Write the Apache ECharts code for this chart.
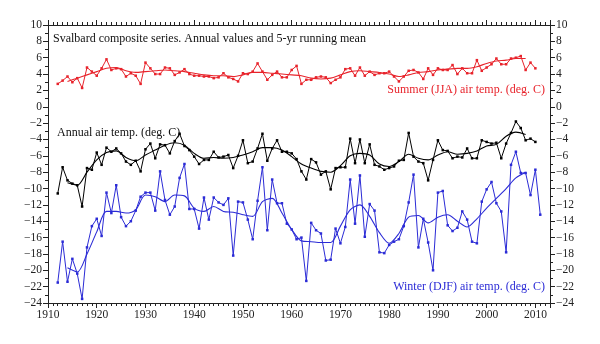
<!DOCTYPE html>
<html><head><meta charset="utf-8">
<script src="https://cdn.jsdelivr.net/npm/echarts@6/dist/echarts.min.js"></script>
<style>html,body{margin:0;padding:0;background:#fff}#c{width:600px;height:344px}</style>
</head><body><div id="c"></div>
<script>
// ---- data ----
const firstYear = 1912;
const summer = [2.8,3.2,3.7,3.0,3.5,2.3,4.8,4.3,3.8,4.7,5.8,4.5,4.7,4.6,3.7,4.1,3.8,2.8,5.4,4.7,4.0,4.0,4.8,4.7,3.9,4.2,4.6,4.0,3.8,3.8,3.7,3.7,3.5,3.6,4.1,3.6,3.4,3.1,4.1,4.0,4.3,5.3,4.3,3.3,3.9,4.3,3.6,3.6,4.5,5.0,2.8,3.3,3.3,3.6,3.7,3.6,2.9,3.3,3.6,4.6,4.7,3.8,4.8,3.8,4.3,3.9,4.1,4.1,4.3,3.7,3.1,3.7,4.4,4.5,4.2,3.4,4.7,3.9,4.7,4.5,4.5,5.1,4.0,4.7,4.1,4.1,5.7,4.4,4.8,5.2,5.9,5.2,5.2,5.9,6.0,6.2,4.5,5.4,4.7];
const annual = [-10.6,-7.4,-9.0,-9.4,-9.6,-12.2,-7.5,-7.7,-5.6,-7.1,-5.0,-5.5,-5.1,-5.7,-6.7,-7.1,-6.6,-7.9,-5.2,-4.5,-6.3,-4.6,-4.7,-5.7,-4.2,-3.3,-4.8,-5.3,-6.1,-7.0,-6.5,-6.5,-5.5,-6.2,-6.1,-5.9,-7.5,-6.0,-4.1,-6.9,-6.7,-5.1,-3.3,-6.6,-5.1,-4.1,-5.5,-5.5,-5.7,-6.4,-7.9,-8.9,-6.4,-6.8,-8.3,-7.9,-10.1,-7.5,-7.4,-7.4,-3.9,-6.9,-4.0,-6.9,-4.6,-7.1,-7.3,-7.7,-7.5,-7.3,-6.6,-6.5,-3.2,-6.1,-6.7,-6.9,-9.0,-6.5,-4.1,-5.3,-5.4,-6.3,-6.1,-6.2,-5.1,-6.3,-6.3,-4.1,-4.3,-4.5,-4.4,-6.3,-4.5,-3.2,-1.8,-2.6,-4.1,-3.9,-4.3];
const winter = [-21.5,-16.5,-21.4,-18.6,-20.4,-23.5,-17.2,-14.6,-13.7,-15.8,-10.5,-13.0,-9.6,-13.5,-14.6,-14.0,-12.7,-11.0,-10.5,-10.5,-12.7,-7.9,-11.4,-13.2,-12.2,-8.7,-7.0,-12.5,-12.5,-14.9,-11.1,-13.8,-11.1,-11.7,-12.0,-11.2,-18.2,-11.6,-11.7,-13.8,-16.2,-11.5,-7.4,-15.1,-8.9,-11.8,-11.8,-14.3,-15.0,-16.2,-16.0,-21.3,-14.2,-15.1,-15.5,-18.8,-18.7,-14.9,-16.7,-14.7,-8.9,-14.3,-8.4,-15.9,-11.9,-12.7,-17.8,-17.9,-16.9,-16.5,-16.2,-14.6,-11.7,-8.3,-17.2,-13.7,-16.6,-20.0,-10.5,-10.3,-14.5,-15.2,-14.8,-12.8,-13.8,-16.5,-16.7,-11.6,-10.1,-9.2,-11.8,-12.8,-17.8,-7.1,-5.5,-8.1,-8.1,-10.8,-7.7,-13.2];

// 5-yr running means at every second year
const meanYears = [1914,1916,1918,1920,1922,1924,1926,1928,1930,1932,1934,1936,1938,1940,1942,1944,1946,1948,1950,1952,1954,1956,1958,1960,1962,1964,1966,1968,1970,1972,1974,1976,1978,1980,1982,1984,1986,1988,1990,1992,1994,1996,1998,2000,2002,2004,2006,2008];
const summerMean = [3.1,3.5,3.9,4.3,4.7,4.8,4.4,4.2,4.3,4.4,4.5,4.4,4.3,4.1,3.9,3.8,3.8,3.7,3.9,4.2,4.2,4.1,4.0,3.9,3.8,3.5,3.4,3.5,3.9,4.3,4.4,4.3,4.2,4.0,3.7,3.9,4.2,4.3,4.5,4.6,4.7,4.7,4.9,5.3,5.6,5.7,5.9,5.9];
const annualMean = [-9.3,-9.6,-8.0,-6.5,-5.6,-5.4,-6.2,-6.6,-5.9,-5.3,-4.7,-4.4,-4.7,-5.7,-6.3,-6.2,-6.3,-6.2,-5.9,-5.5,-5.0,-5.0,-5.3,-6.1,-7.0,-7.5,-7.9,-8.0,-7.2,-6.0,-5.7,-5.9,-7.0,-7.3,-6.7,-5.8,-6.3,-6.5,-5.9,-5.5,-5.8,-5.7,-5.4,-4.8,-4.6,-3.6,-3.1,-3.4];
const winterMean = [-19.7,-20.2,-18.0,-15.3,-12.8,-12.8,-13.0,-12.6,-10.8,-11.0,-11.6,-10.8,-10.9,-12.4,-12.8,-12.2,-12.8,-12.9,-13.2,-13.4,-11.6,-11.2,-13.0,-15.0,-16.4,-16.5,-16.6,-16.6,-14.6,-12.6,-12.0,-13.4,-15.4,-16.7,-15.5,-13.5,-13.3,-14.2,-13.5,-13.2,-14.0,-14.7,-13.7,-12.4,-11.2,-10.0,-8.7,-8.0];

const xTicks = [1910,1920,1930,1940,1950,1960,1970,1980,1990,2000,2010];
const yTicks = [10,8,6,4,2,0,-2,-4,-6,-8,-10,-12,-14,-16,-18,-20,-22,-24];

const titleText = 'Svalbard composite series. Annual values and 5-yr running mean';
const annualText = 'Annual air temp. (deg. C)';
const summerText = 'Summer (JJA) air temp. (deg. C)';
const winterText = 'Winter (DJF) air temp. (deg. C)';

// ---- build ----
const RED = '#e8232b', BLUE = '#2b2bd6', BLACK = '#000';
const FONT = 'Liberation Serif';
function pairs(vals){ return vals.map((v,i)=>[firstYear+i, v]); }
function mpairs(vals){ return vals.map((v,i)=>[meanYears[i], v]); }
function yfmt(v){ return v < 0 ? '\u2212' + (-v) : String(v); }

function xAx(pos, labels){
  return {type:'value', position:pos, min:1910, max:2013, interval:10,
    axisLine:{show:true, onZero:false, lineStyle:{color:'#222', width:1}},
    axisTick:{show:true, length:5, lineStyle:{color:'#222'}},
    minorTick:{show:true, splitNumber:10, length:3, lineStyle:{color:'#222'}},
    splitLine:{show:false},
    axisLabel:{show:labels, color:'#222', fontFamily:FONT, fontSize:11.5, margin:6, showMaxLabel:false,
      formatter: v => xTicks.includes(v) ? String(v) : ''}};
}
function yAx(pos){
  return {type:'value', position:pos, min:-24, max:10, interval:2,
    axisLine:{show:true, onZero:false, lineStyle:{color:'#222', width:1}},
    axisTick:{show:true, length:5, lineStyle:{color:'#222'}},
    minorTick:{show:true, splitNumber:2, length:3, lineStyle:{color:'#222'}},
    splitLine:{show:false},
    axisLabel:{color:'#222', fontFamily:FONT, fontSize:11.5, margin:6,
      formatter: v => yTicks.includes(v) ? yfmt(v) : ''}};
}
function valSeries(vals, color){
  return {type:'line', data:pairs(vals), xAxisIndex:0, yAxisIndex:0,
    symbol:'rect', symbolSize:2.5, showSymbol:true,
    lineStyle:{color, width:1}, itemStyle:{color}, z:3, silent:true};
}
function meanSeries(vals, color){
  return {type:'line', data:mpairs(vals), xAxisIndex:0, yAxisIndex:0,
    smooth:0.3, symbol:'none', lineStyle:{color, width:1.1}, z:2, silent:true};
}

const chart = echarts.init(document.getElementById('c'), null, {renderer:'canvas'});
chart.setOption({
  animation:false,
  backgroundColor:'#fff',
  grid:{left:48, right:50, top:25, bottom:41},
  xAxis:[xAx('bottom', true), xAx('top', false)],
  yAxis:[yAx('left'), yAx('right')],
  series:[
    valSeries(summer, RED), meanSeries(summerMean, RED),
    valSeries(annual, BLACK), meanSeries(annualMean, BLACK),
    valSeries(winter, BLUE), meanSeries(winterMean, BLUE)
  ],
  graphic:[
    {type:'text', left:53, top:33, style:{text:titleText, fill:'#111', font:'12px "Liberation Serif"'}},
    {type:'text', left:57, top:127, style:{text:annualText, fill:'#111', font:'12px "Liberation Serif"'}},
    {type:'text', right:55, top:84, style:{text:summerText, fill:RED, font:'12px "Liberation Serif"', align:'right'}},
    {type:'text', right:55, top:281, style:{text:winterText, fill:BLUE, font:'12px "Liberation Serif"', align:'right'}}
  ]
});
</script></body></html>
